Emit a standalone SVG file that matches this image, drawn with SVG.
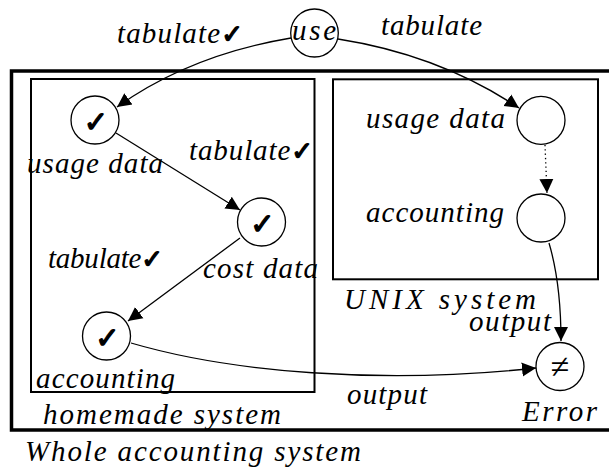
<svg xmlns="http://www.w3.org/2000/svg" width="609" height="471" viewBox="0 0 609 471">
<style>
text{font-family:"Liberation Serif",serif;font-style:italic;font-size:29px;fill:#000}
.ck{font-family:"DejaVu Sans",sans-serif;font-style:normal;font-weight:bold;stroke:#000;stroke-width:1.3}
.n{fill:#fff;stroke:#000;stroke-width:1.3}
.box{fill:none;stroke:#000;stroke-width:2}
.c{fill:none;stroke:#000;stroke-width:1.3}
</style>
<defs>
<marker id="ah" markerUnits="userSpaceOnUse" markerWidth="16" markerHeight="16" viewBox="0 0 16 16" refX="14" refY="8" orient="auto">
<path d="M0,1 L14,8 L0,15 Z" fill="#000"/>
</marker>
</defs>
<rect x="11.5" y="71" width="620" height="359" fill="none" stroke="#000" stroke-width="3.5"/>
<g id="homemade">
<rect class="box" x="31" y="79" width="283.5" height="313"/>
<text x="43" y="424" textLength="238">homemade system</text>
</g>
<g id="unix">
<rect class="box" x="333" y="79.3" width="265" height="200"/>
<text x="344" y="309" textLength="192">UNIX system</text>
</g>
<text x="25" y="461" textLength="336">Whole accounting system</text>
<g id="connectors">
<path class="c" d="M291,38 Q190,55 117,107" marker-end="url(#ah)"/>
<path class="c" d="M338,39 Q440,55 519,108" marker-end="url(#ah)"/>
<path class="c" d="M116,133 L240,210" marker-end="url(#ah)"/>
<path class="c" d="M240,238 L128,321" marker-end="url(#ah)"/>
<path class="c" d="M545,145 L547,193" stroke-dasharray="1.3,3" marker-end="url(#ah)"/>
<path class="c" d="M549,243 C557,270 561,300 561,341" marker-end="url(#ah)"/>
<path class="c" d="M131,343 C230,372 380,385 536,368" marker-end="url(#ah)"/>
</g>
<g id="use">
<ellipse class="n" cx="314.5" cy="33" rx="23.8" ry="24"/>
<text x="292" y="40" textLength="44">use</text>
</g>
<g id="usage-home">
<circle class="n" cx="95" cy="120" r="24"/>
<text class="ck" x="96" y="131.5" font-size="30" text-anchor="middle">✓</text>
</g>
<g id="cost-home">
<circle class="n" cx="261.5" cy="222" r="24"/>
<text class="ck" x="262.5" y="233.5" font-size="30" text-anchor="middle">✓</text>
</g>
<g id="acct-home">
<circle class="n" cx="106.5" cy="336" r="24"/>
<text class="ck" x="107.5" y="347.5" font-size="30" text-anchor="middle">✓</text>
</g>
<g id="usage-unix">
<circle class="n" cx="541" cy="120.3" r="24"/>
</g>
<g id="acct-unix">
<circle class="n" cx="541" cy="218" r="24"/>
</g>
<g id="error">
<circle class="n" cx="560" cy="366.5" r="24"/>
<text x="560" y="378" style="font-style:normal;font-size:34px" text-anchor="middle">≠</text>
<text x="522" y="421" textLength="75">Error</text>
</g>
<g id="labels">
<text x="117" y="43" textLength="126">tabulate<tspan class="ck" font-size="26">✓</tspan></text>
<text x="381" y="35" textLength="101">tabulate</text>
<text x="27" y="173" textLength="136">usage data</text>
<text x="189" y="160" textLength="124">tabulate<tspan class="ck" font-size="26">✓</tspan></text>
<text x="48" y="268" textLength="115">tabulate<tspan class="ck" font-size="26">✓</tspan></text>
<text x="203" y="278" textLength="115">cost data</text>
<text x="36" y="388" textLength="139">accounting</text>
<text x="366" y="128" textLength="139">usage data</text>
<text x="366" y="222" textLength="138">accounting</text>
<text x="469" y="331" textLength="82">output</text>
<text x="347" y="404" textLength="80">output</text>
</g>
</svg>
